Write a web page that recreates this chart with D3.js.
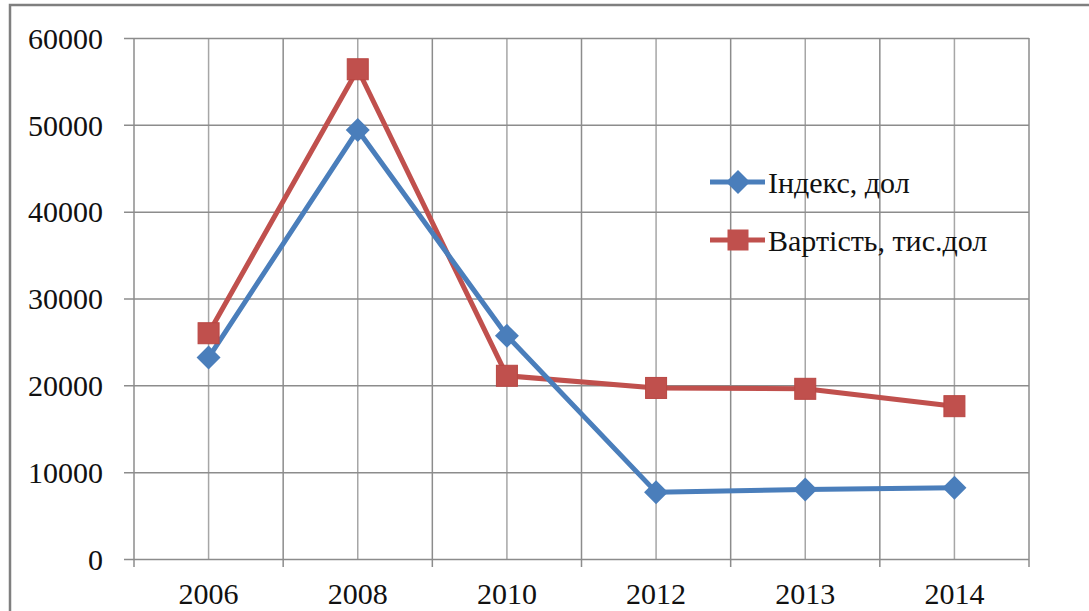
<!DOCTYPE html>
<html>
<head>
<meta charset="utf-8">
<script src="https://cdn.jsdelivr.net/npm/d3@7"></script>
<style>
  html, body { margin: 0; padding: 0; background: #fff; }
  svg { display: block; }
  text { fill: #111; }
</style>
</head>
<body>
<svg id="chart" width="1089" height="611"></svg>
<script>
// Years on the category axis
const years = ["2006", "2008", "2010", "2012", "2013", "2014"];
// Index, USD
const indexValues = [23200, 49400, 25700, 7700, 8000, 8200];
// Value, thousand USD
const costValues = [26000, 56400, 21100, 19700, 19600, 17600];
// Value-axis ticks
const yTicks = [0, 10000, 20000, 30000, 40000, 50000, 60000];
// Legend labels
const seriesNames = ["Індекс, дол", "Вартість, тис.дол"];

const FONT = "'Liberation Serif', Tinos, 'Times New Roman', 'Nimbus Roman', 'Nimbus Roman No9 L', FreeSerif, 'DejaVu Serif', serif";

const svg = d3.select("#chart");
const W = 1089, H = 611;
const plot = { left: 134, right: 1029, top: 38, bottom: 559 };

// Outer chart frame
svg.append("rect")
  .attr("x", 10).attr("y", 5)
  .attr("width", W - 10 + 5).attr("height", H)
  .attr("fill", "#fff")
  .attr("stroke", "#7f7f7f").attr("stroke-width", 2.5);

const x = d3.scaleBand().domain(years).range([plot.left, plot.right]).padding(0);
const y = d3.scaleLinear().domain([0, 60000]).range([plot.bottom, plot.top]);

const gridColor = "#8c8c8c";
const grid = svg.append("g");

// Vertical gridlines at category boundaries and category centres
const bounds = years.map(d => x(d)).concat([x.range()[1]]);
const centres = years.map(d => x(d) + x.bandwidth() / 2);
grid.selectAll("line.vb").data(bounds).join("line")
  .attr("x1", d => d).attr("x2", d => d)
  .attr("y1", plot.top).attr("y2", plot.bottom + 8)
  .attr("stroke", gridColor).attr("stroke-width", 1.5);
grid.selectAll("line.vc").data(centres).join("line")
  .attr("x1", d => d).attr("x2", d => d)
  .attr("y1", plot.top).attr("y2", plot.bottom)
  .attr("stroke", "#a6a6a6").attr("stroke-width", 1.5);

// Horizontal gridlines plus value axis
const yAxis = d3.axisLeft(y)
  .tickValues(yTicks)
  .tickSize(plot.right - plot.left + 10)
  .tickPadding(21)
  .tickFormat(d3.format("d"));
const yg = svg.append("g")
  .attr("transform", `translate(${plot.right},0)`)
  .call(yAxis)
  .attr("font-family", null);
yg.select(".domain").remove();
yg.selectAll(".tick line").attr("stroke", gridColor).attr("stroke-width", 1.5);
yg.selectAll(".tick text")
  .attr("font-size", 30)
  .attr("dy", "0.34em")
  .style("font-family", FONT)
  .attr("fill", "#111");

// Category labels
svg.append("g").selectAll("text").data(years).join("text")
  .attr("x", d => x(d) + x.bandwidth() / 2)
  .attr("y", 604)
  .attr("text-anchor", "middle")
  .attr("font-size", 30)
  .style("font-family", FONT)
  .text(d => d);

const line = d3.line()
  .x((d, i) => x(years[i]) + x.bandwidth() / 2)
  .y(d => y(d));

const blue = "#4a7ebb", red = "#c0504d";

// Value series (red, squares)
svg.append("path").datum(costValues)
  .attr("d", line).attr("fill", "none")
  .attr("stroke", red).attr("stroke-width", 5).attr("stroke-linejoin", "round");
// Index series (blue, diamonds)
svg.append("path").datum(indexValues)
  .attr("d", line).attr("fill", "none")
  .attr("stroke", blue).attr("stroke-width", 5).attr("stroke-linejoin", "round");

const sq = 21, dm = 12;
svg.append("g").selectAll("rect").data(costValues).join("rect")
  .attr("x", (d, i) => x(years[i]) + x.bandwidth() / 2 - sq / 2)
  .attr("y", d => y(d) - sq / 2)
  .attr("width", sq).attr("height", sq)
  .attr("fill", red).attr("stroke", "#b94743").attr("stroke-width", 1);

const diamond = (cx, cy) => `M${cx},${cy - dm}L${cx + dm},${cy}L${cx},${cy + dm}L${cx - dm},${cy}Z`;
svg.append("g").selectAll("path").data(indexValues).join("path")
  .attr("d", (d, i) => diamond(x(years[i]) + x.bandwidth() / 2, y(d)))
  .attr("fill", blue);

// Legend
const legend = svg.append("g");
const legendRows = [
  { name: seriesNames[0], color: blue, y: 182, marker: "diamond" },
  { name: seriesNames[1], color: red, y: 240, marker: "square" }
];
legendRows.forEach(r => {
  legend.append("line")
    .attr("x1", 710).attr("x2", 765).attr("y1", r.y).attr("y2", r.y)
    .attr("stroke", r.color).attr("stroke-width", 5);
  if (r.marker === "diamond") {
    legend.append("path").attr("d", diamond(738, r.y)).attr("fill", r.color);
  } else {
    legend.append("rect")
      .attr("x", 738 - sq / 2).attr("y", r.y - sq / 2)
      .attr("width", sq).attr("height", sq).attr("fill", r.color);
  }
  legend.append("text")
    .attr("x", 768).attr("y", r.y + 11)
    .attr("font-size", 30)
    .style("font-family", FONT)
    .text(r.name);
});
</script>
</body>
</html>
